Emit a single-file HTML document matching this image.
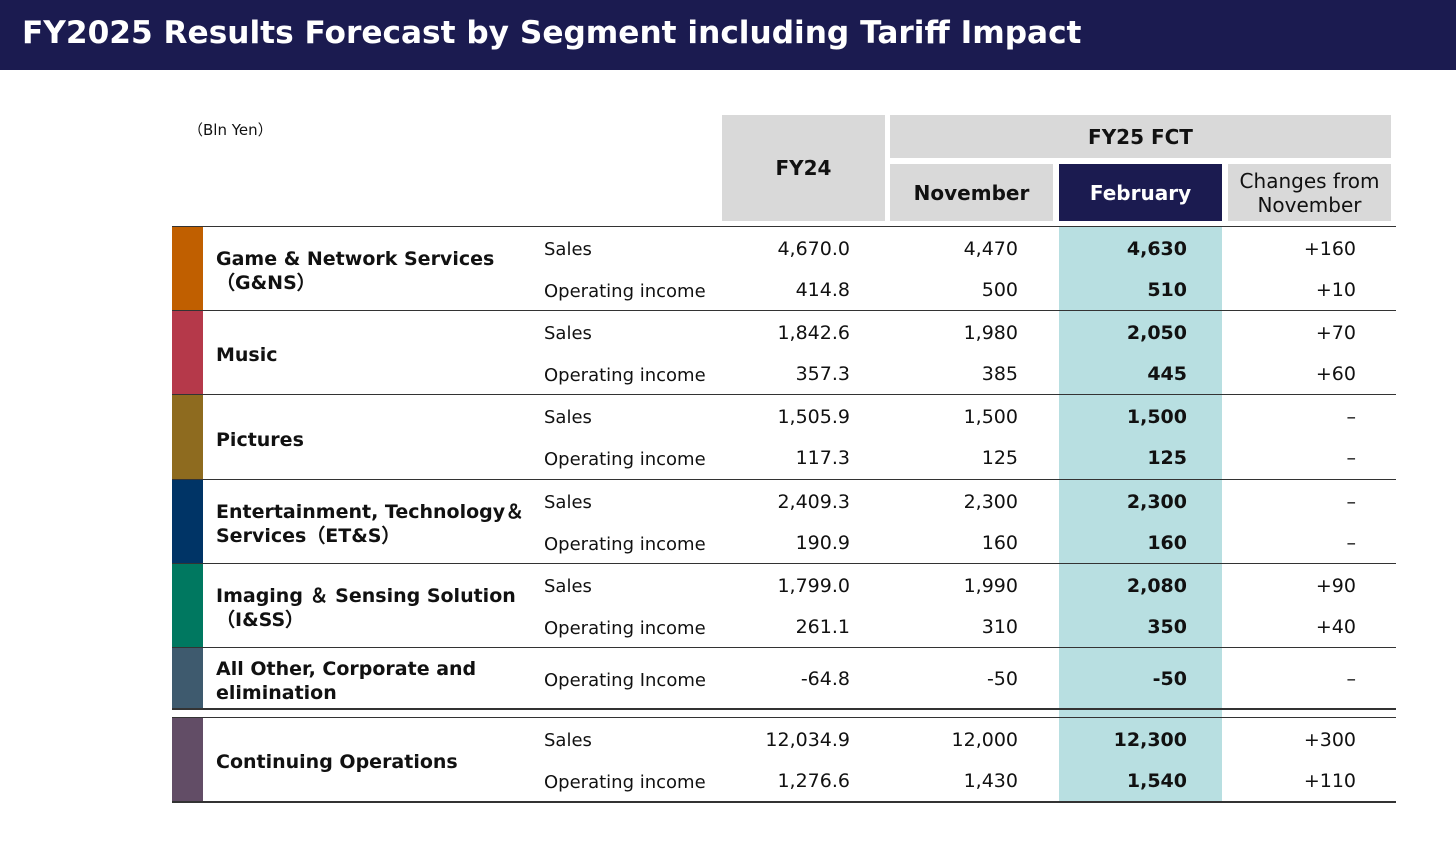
<!DOCTYPE html>
<html><head><meta charset="utf-8"><style>
body{margin:0;width:1456px;height:854px;background:#fff;position:relative;overflow:hidden;font-family:"DejaVu Sans","Liberation Sans",sans-serif;color:#111}
div{position:absolute;box-sizing:border-box}
.t{white-space:nowrap;font-size:19px}
.r{text-align:right}
.b{font-weight:bold}
.hl{height:1.5px;background:#333;left:172px;width:1224px}
.hd{background:#d9d9d9;display:flex;align-items:center;justify-content:center;text-align:center;font-size:20px;font-weight:bold;line-height:24px}
</style></head><body>
<div style="left:0;top:0;width:1456px;height:70px;background:#1b1b50"></div>
<div class="t b" style="left:22px;top:15px;font-size:31.2px;color:#fff;font-family:'DejaVu Sans',sans-serif">FY2025 Results Forecast by Segment including Tariff Impact</div>
<div class="t" style="left:188px;top:119px;font-size:15px">（Bln Yen）</div>
<div class="hd" style="left:722px;top:115px;width:163px;height:106px">FY24</div>
<div class="hd" style="left:890px;top:115px;width:501px;height:43px">FY25 FCT</div>
<div class="hd" style="left:890px;top:164px;width:163px;height:57px">November</div>
<div class="hd" style="left:1059px;top:164px;width:163px;height:57px;background:#1b1b50;color:#fff">February</div>
<div class="hd" style="left:1228px;top:164px;width:163px;height:57px;font-weight:normal">Changes from<br>November</div>
<div style="left:1059px;top:227px;width:163px;height:574px;background:#b8dfe1"></div>
<script>
const segments=["Game & Network Services\n（G&NS）","Music","Pictures","Entertainment, Technology＆\nServices（ET&S）","Imaging ＆ Sensing Solution\n（I&SS）","All Other, Corporate and\nelimination","Continuing Operations"];
const colors=["#c05f00","#b5394a","#8e6b1f","#003466","#007860","#3e5a6e","#624d66"];
const metrics=[["Sales","Operating income"],["Sales","Operating income"],["Sales","Operating income"],["Sales","Operating income"],["Sales","Operating income"],["Operating Income"],["Sales","Operating income"]];
const fy24=[["4,670.0","414.8"],["1,842.6","357.3"],["1,505.9","117.3"],["2,409.3","190.9"],["1,799.0","261.1"],["-64.8"],["12,034.9","1,276.6"]];
const nov=[["4,470","500"],["1,980","385"],["1,500","125"],["2,300","160"],["1,990","310"],["-50"],["12,000","1,430"]];
const feb=[["4,630","510"],["2,050","445"],["1,500","125"],["2,300","160"],["2,080","350"],["-50"],["12,300","1,540"]];
const chg=[["+160","+10"],["+70","+60"],["–","–"],["–","–"],["+90","+40"],["–"],["+300","+110"]];
const tops=[227,311,395,480,564,648,718];
const heights=[84,84,85,84,84,61,84];
const body=document.body;
function mk(cls,st,txt){const d=document.createElement('div');d.className=cls;d.style.cssText=st;if(txt!==undefined)d.textContent=txt;body.appendChild(d);return d;}
tops.forEach((t,i)=>{
  const l=mk('hl','top:'+(t-1.5)+'px');
  
  
  const cb=mk('','left:172px;top:'+t+'px;width:31px;height:'+heights[i]+'px;background:'+colors[i]);
  
  
  const lines=segments[i].split('\n');
  const lb=mk('t b','left:216px;top:'+(t+heights[i]/2-lines.length*12+2)+'px;line-height:24px;font-size:19px');
  lb.innerHTML=lines.map(s=>s.replace(/&/g,'&amp;')).join('<br>');
  
  
  metrics[i].forEach((m,j)=>{
    let y;
    if(metrics[i].length===1) y=t+heights[i]/2-11; else y=t+(j===0?11:52);
    const a=mk('t','left:544px;top:'+(y+(metrics[i].length>1&&j===0?1:2))+'px;font-size:18px',m);
    
    const b=mk('t r','left:690px;width:160px;top:'+y+'px',fy24[i][j]);
    
    const c=mk('t r','left:858px;width:160px;top:'+y+'px',nov[i][j]);
    
    const d=mk('t r b','left:1027px;width:160px;top:'+y+'px',feb[i][j]);
    
    const e=mk('t r','left:1196px;width:160px;top:'+y+'px',chg[i][j]);
    
  });
});
const l1=mk('hl','top:708px');


const l2=mk('hl','top:801px');


</script>
</body></html>
